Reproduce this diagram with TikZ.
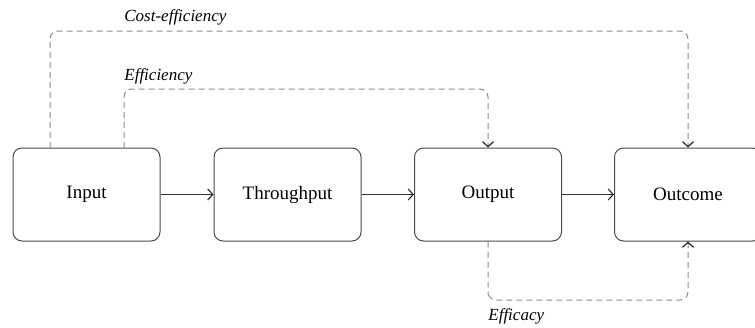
\documentclass[tikz,border=0pt]{standalone}
\usepackage{fontspec}
\setmainfont{Liberation Serif}
\usetikzlibrary{arrows.meta}
\begin{document}
\begin{tikzpicture}[x=0.5pt,y=-0.5pt,
  box/.style={draw=black!70,line width=0.5pt,rounded corners=4.5pt,fill=white,minimum width=73.5pt,minimum height=46.5pt,inner sep=0pt,font=\fontsize{9.5}{11}\selectfont},
  flow/.style={draw=black!80,line width=0.5pt,-{Straight Barb[length=2.5pt,width=5.5pt,line width=0.6pt]}},
  link/.style={draw=black!45,line width=0.5pt,dash pattern=on 3pt off 2pt,rounded corners=4pt},
  linkarrow/.style={link,-{Straight Barb[length=2.5pt,width=5.5pt,line width=0.6pt,black!85]}},
  lbl/.style={font=\fontsize{8.5}{10}\selectfont\itshape,anchor=west,inner sep=0pt}]
\useasboundingbox (0,0) rectangle (755,327);
\node[box] (in) at (86.5,194.5) {Input};
\node[box] (th) at (287.5,194.5) {Throughput};
\node[box] (ou) at (488,194.5) {Output};
\node[box] (oc) at (688,194.5) {Outcome};
\draw[flow] (in) -- (th);
\draw[flow] (th) -- (ou);
\draw[flow] (ou) -- (oc);
\coordinate (ceS) at (50,148);
\coordinate (ceT) at (50,31);
\coordinate (efS) at (124,148);
\coordinate (efT) at (124,89);
\coordinate (eaB) at (488,300);
\draw[linkarrow] (ceS) -- (ceT) -| (oc.north);
\draw[linkarrow] (efS) -- (efT) -| (ou.north);
\draw[linkarrow] (ou.south) |- (eaB) -| (oc.south);
\node[lbl] (lce) at (124,17) {Cost-efficiency};
\node[lbl] (lef) at (124,76) {Efficiency};
\node[lbl] (lea) at (488,316) {Efficacy};
\end{tikzpicture}
\end{document}
